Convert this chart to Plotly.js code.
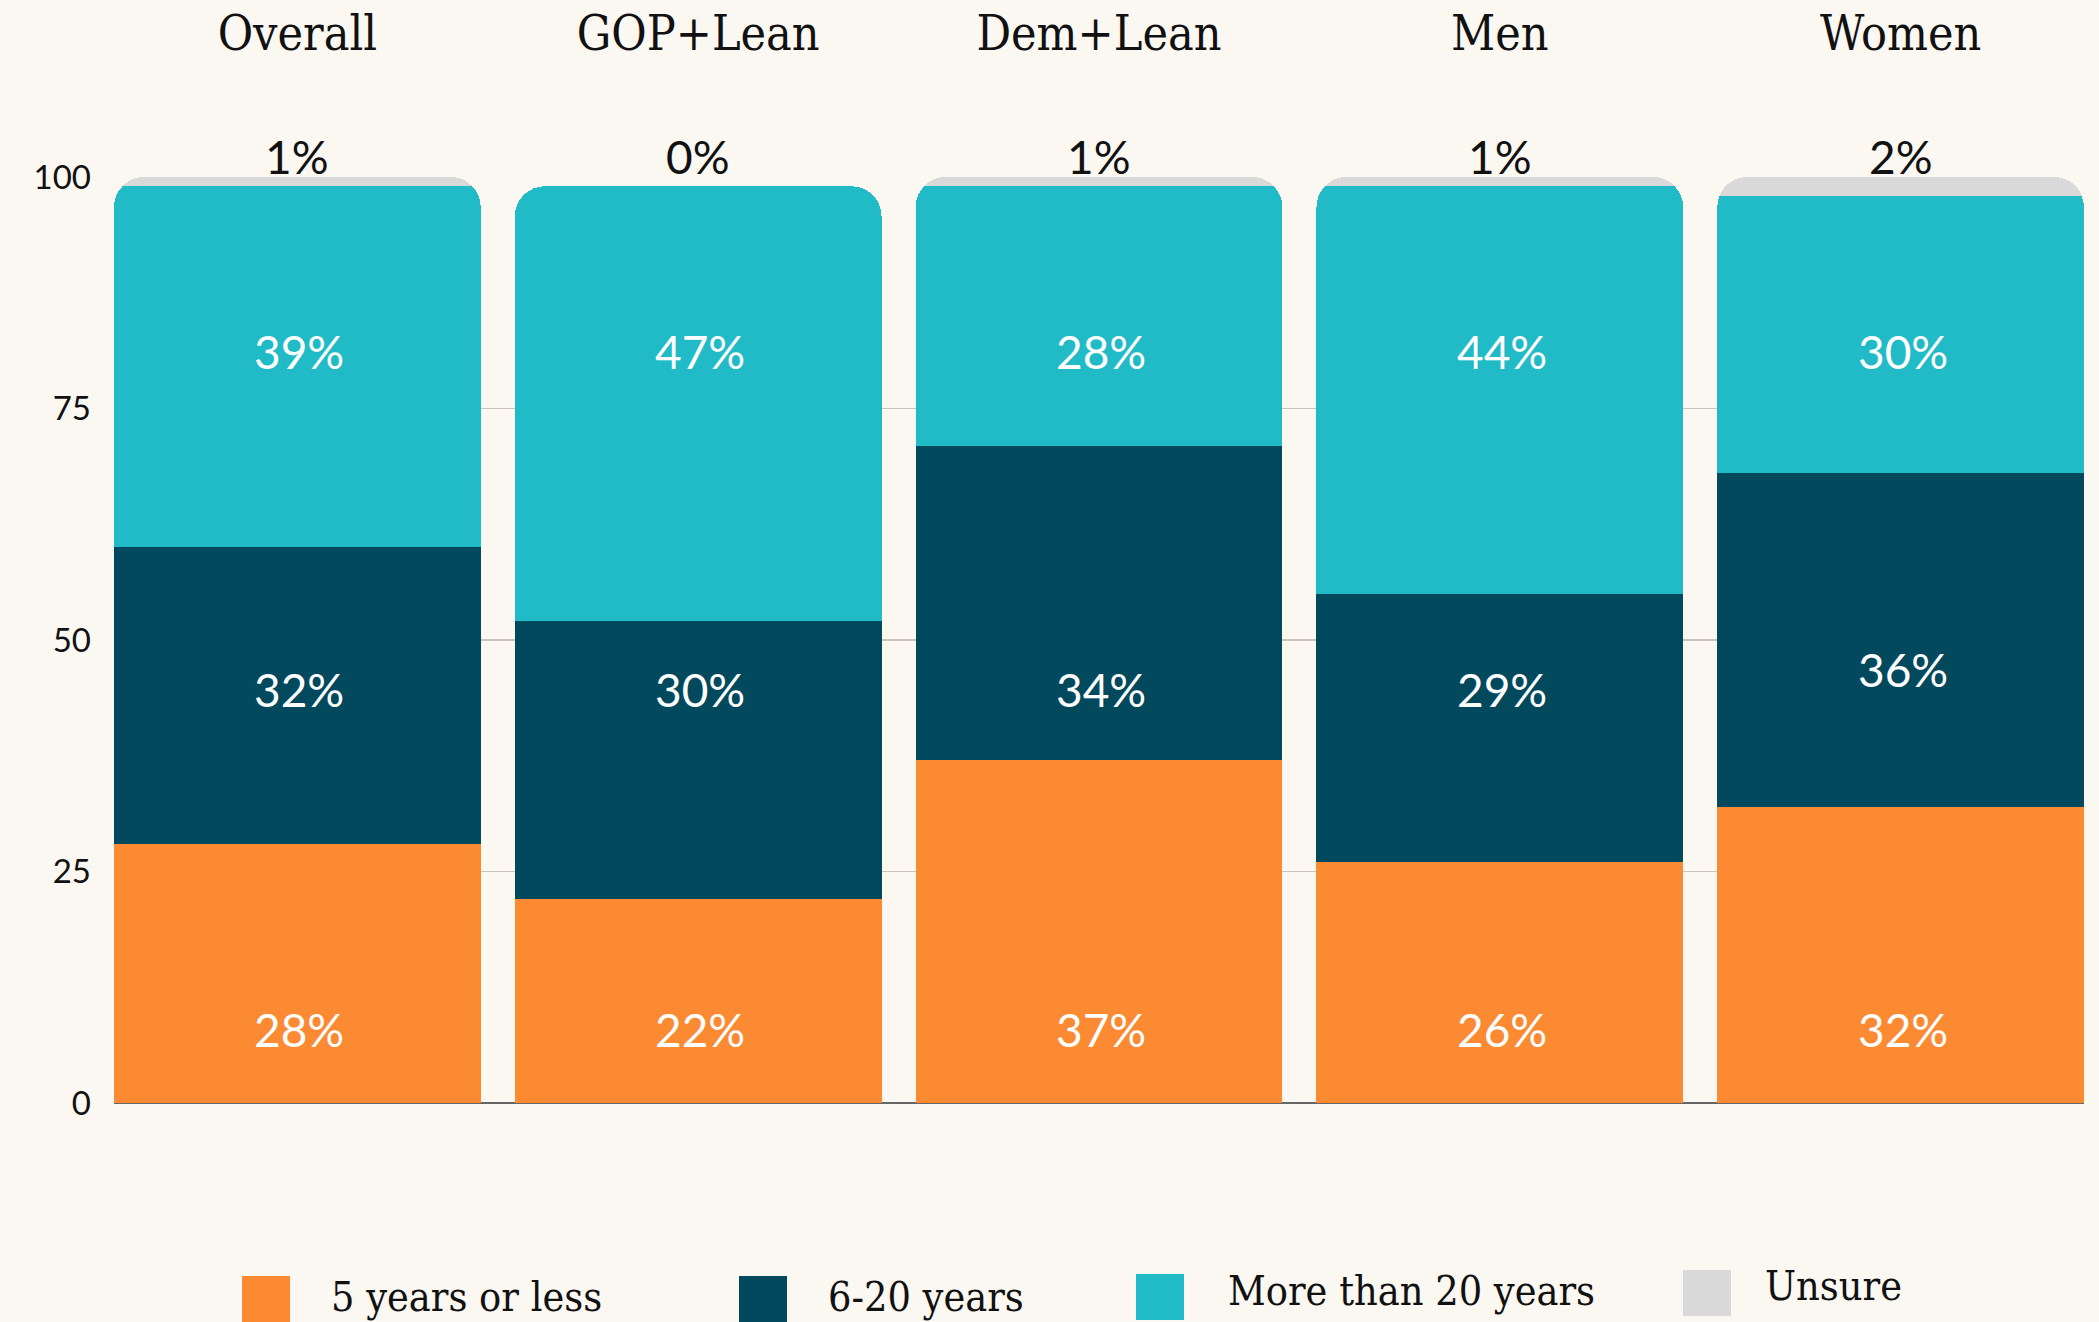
<!DOCTYPE html>
<html><head><meta charset="utf-8">
<script src="https://cdn.plot.ly/plotly-3.0.1.min.js"></script>
<style>html,body{margin:0;padding:0;background:#fbf7f1;overflow:hidden}</style>
</head><body><div id="chart" style="width:2099px;height:1322px"></div>
<script>
const categories = ["Overall", "GOP+Lean", "Dem+Lean", "Men", "Women"];
const fiveOrLess = [28, 22, 37, 26, 32];
const sixToTwenty = [32, 30, 34, 29, 36];
const moreThanTwenty = [39, 47, 28, 44, 30];
const unsure = [1, 0, 1, 1, 2];
const seriesNames = ["5 years or less", "6-20 years", "More than 20 years", "Unsure"];
const seriesColors = ["#fb8a33", "#03495e", "#21bbc7", "#d9d9d9"];
const yTicks = [0, 25, 50, 75, 100];

const series = [fiveOrLess, sixToTwenty, moreThanTwenty, unsure];

const SERIF = '"DejaVu Serif Condensed", "DejaVu Serif", serif';
const SANS = 'Lato, "Open Sans", sans-serif';

// plot area in pixels
const L = 114, R = 2084, T = 177, B = 1103;
const px2x = p => (p - L) / (R - L);
const py2y = p => (B - p) / (B - T);

const traces = series.map((vals, i) => ({
  type: 'bar',
  name: seriesNames[i],
  x: categories,
  y: vals,
  marker: {color: seriesColors[i], line: {width: 0}},
  hoverinfo: 'none',
  showlegend: false
}));

// in-bar label levels (axis units) per stacked series
const labelLevels = [7.95, 44.65, 81.2];
const annotations = [];
for (let s = 0; s < 3; s++) {
  categories.forEach((c, j) => {
    annotations.push({
      x: c, y: labelLevels[s], xref: 'x', yref: 'y',
      text: series[s][j] + '%', showarrow: false,
      xshift: 2,
      yshift: (s === 1 && c === 'Women') ? 20 : 0,
      font: {family: SANS, size: 46, color: '#ffffff'}
    });
  });
}
// "Unsure" values above the bars
categories.forEach((c, j) => {
  annotations.push({
    x: c, y: 1.022, xref: 'x', yref: 'paper', yanchor: 'middle',
    text: unsure[j] + '%', showarrow: false,
    font: {family: SANS, size: 46, color: '#111111'}
  });
});

// custom legend with large swatches
const legendItems = [
  {sx: 242, sy: 1276, tx: 329, ty: 1297},
  {sx: 739, sy: 1276, tx: 826, ty: 1297},
  {sx: 1136, sy: 1274, tx: 1226, ty: 1291},
  {sx: 1683, sy: 1270, tx: 1763, ty: 1286}
];
const shapes = [];
legendItems.forEach((it, i) => {
  shapes.push({
    type: 'rect', xref: 'paper', yref: 'paper',
    x0: px2x(it.sx), x1: px2x(it.sx + 48),
    y0: py2y(it.sy + 46), y1: py2y(it.sy),
    fillcolor: seriesColors[i], line: {width: 0}
  });
  annotations.push({
    xref: 'paper', yref: 'paper', x: px2x(it.tx), y: py2y(it.ty),
    xanchor: 'left', yanchor: 'middle', showarrow: false,
    text: seriesNames[i],
    font: {family: SERIF, size: 41, color: '#111111'}
  });
});

const layout = {
  width: 2099, height: 1322,
  paper_bgcolor: '#fbf7f1', plot_bgcolor: '#fbf7f1',
  margin: {l: L, r: 2099 - R, t: T, b: 1322 - B, pad: 0},
  barmode: 'stack', bargap: 0.085, barcornerradius: 30,
  showlegend: false,
  xaxis: {
    type: 'category', range: [-0.4575, 4.4575], side: 'top',
    showgrid: false, showline: false, zeroline: false, ticks: '',
    ticklabelstandoff: 116,
    tickfont: {family: SERIF, size: 48, color: '#111111'}
  },
  yaxis: {
    range: [0, 100], tickvals: yTicks, ticktext: yTicks.map(String),
    showgrid: true, gridcolor: '#c9c3bb', gridwidth: 1.5,
    zeroline: true, zerolinecolor: '#666666', zerolinewidth: 1.5,
    showline: false, ticks: '', ticklabelstandoff: 22,
    tickfont: {family: SANS, size: 33, color: '#111111'}
  },
  annotations: annotations,
  shapes: shapes
};

Plotly.newPlot('chart', traces, layout, {displayModeBar: false, staticPlot: true});
</script>
</body></html>
